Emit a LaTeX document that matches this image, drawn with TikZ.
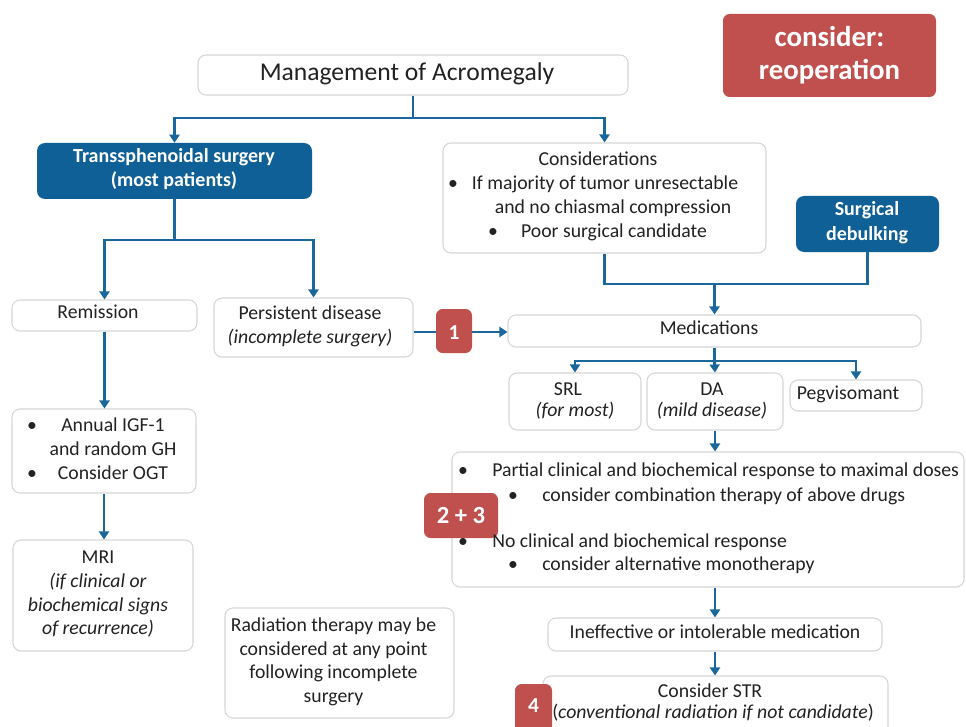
\documentclass[tikz,border=0pt]{standalone}
\usepackage{fontspec}
\setmainfont{Carlito}
\usetikzlibrary{arrows.meta}
\definecolor{lnblue}{HTML}{1A679C}
\definecolor{boxblue}{HTML}{0F6096}
\definecolor{boxred}{HTML}{C0504D}
\definecolor{txt}{HTML}{222222}
\definecolor{edge}{HTML}{D6D6D6}
\tikzset{
  wbox/.style={draw=edge, line width=0.8pt, rounded corners=6pt, fill=white, inner sep=0pt},
  bbox/.style={fill=boxblue, rounded corners=6pt, inner sep=0pt},
  rbox/.style={fill=boxred, rounded corners=5pt, inner sep=0pt},
  tx/.style={text=txt, font=\fontsize{14.8}{18}\selectfont, inner sep=0pt, anchor=base},
  txi/.style={tx, font=\fontsize{14.8}{18}\selectfont\itshape},
  wtx/.style={text=white, font=\fontsize{15}{18}\selectfont\bfseries, inner sep=0pt, anchor=base},
  ln/.style={draw=lnblue, line width=2.2pt},
  arr/.style={ln, -{Triangle[width=7.5pt,length=6pt]}},
}
\newcommand\bx[7]{\node[#6, minimum width={(#4-#2)*0.75pt}, minimum height={(#5-#3)*0.75pt}] (#1) at ({(#2+#4)/2},{(#3+#5)/2}) {#7};}
\begin{document}
\begin{tikzpicture}[x=0.75pt,y=-0.75pt]
\useasboundingbox[fill=white] (0,0) rectangle (966,727);

% boxes
\bx{title}{198}{55}{628}{95}{wbox}{}
\bx{reop}{723}{14}{936}{97}{rbox}{}
\bx{trans}{37}{143}{312}{199}{bbox}{}
\bx{cons}{443}{143}{766}{253}{wbox}{}
\bx{deb}{796}{196}{939}{252}{bbox}{}
\bx{rem}{12}{300}{197}{331}{wbox}{}
\bx{pers}{214}{298}{413}{357}{wbox}{}
\bx{med}{508}{315}{921}{347}{wbox}{}
\bx{srl}{509}{373}{641}{430}{wbox}{}
\bx{da}{647}{373}{783}{430}{wbox}{}
\bx{peg}{790}{380}{922}{411}{wbox}{}
\bx{ann}{12}{409}{196}{493}{wbox}{}
\bx{mri}{13}{540}{193}{651}{wbox}{}
\bx{bul}{452}{452}{964}{587}{wbox}{}
\bx{rad}{225}{608}{454}{718}{wbox}{}
\bx{ineff}{548}{618}{882}{651}{wbox}{}
\bx{str}{543}{676}{888}{745}{wbox}{}

% connectors
\coordinate (tj) at (413,118);
\draw[ln] (title.south) -- (tj);
\draw[arr] (tj) -| (trans.north);
\draw[arr] (tj) -| (cons.north);
\coordinate (sj) at (174.5,240);
\draw[ln] (trans.south) -- (sj);
\draw[arr] (sj) -| (rem.north);
\draw[arr] (sj) -| (pers.north);
\draw[arr] (rem.south) -- (rem.south |- ann.north);
\draw[arr] (ann.south) -- (ann.south |- mri.north);
\draw[arr] (pers.east |- 0,332) -- (med.west |- 0,332);
\coordinate (mj) at (714.5,284);
\draw[ln] (cons.south) -- (cons.south |- mj) -- (mj -| deb.south) -- (deb.south);
\draw[arr] (mj) -- (med.north);
\coordinate (dj) at (714.5,361);
\draw[ln] (med.south) -- (dj);
\draw[arr] (dj) -| (srl.north);
\draw[arr] (dj) -- (da.north);
\draw[arr] (dj) -| (peg.north);
\draw[arr] (da.south) -- (da.south |- bul.north);
\draw[arr] (ineff.north |- bul.south) -- (ineff.north);
\draw[arr] (ineff.south) -- (ineff.south |- str.north);

% badges
\bx{b1}{436}{309}{472}{353}{rbox}{}
\bx{b23}{424}{493}{498}{538}{rbox}{}
\bx{b4}{515}{684}{552}{740}{rbox}{}

% texts
\node[tx, font=\fontsize{19.2}{24}\selectfont] (titlet) at (407,81) {Management of Acromegaly};
\node[wtx, font=\fontsize{21.6}{25}\selectfont\bfseries] (reop1) at (829.5,47) {consider:};
\node[wtx, font=\fontsize{21.6}{25}\selectfont\bfseries] (reop2) at (829.5,80) {reoperation};
\node[wtx] (trans1) at (174,163) {Transsphenoidal surgery};
\node[wtx] (trans2) at (174,187) {(most patients)};
\node[tx] (c1) at (598,166) {Considerations};
\node[tx] (c2) at (453,190) {•};
\node[tx] (c3) at (605,190) {If majority of tumor unresectable};
\node[tx] (c4) at (613,214) {and no chiasmal compression};
\node[tx] (c5) at (493,238) {•};
\node[tx] (c6) at (614,238) {Poor surgical candidate};
\node[wtx] (deb1) at (867,216) {Surgical};
\node[wtx] (deb2) at (867,240) {debulking};
\node[tx] (remt) at (98,318) {Remission};
\node[tx] (pers1) at (310,319) {Persistent disease};
\node[txi] (pers2) at (310,343) {(incomplete surgery)};
\node[wtx, font=\fontsize{16}{18}\selectfont\bfseries] (b1t) at (454,339) {1};
\node[tx] (medt) at (709,334) {Medications};
\node[tx] (srl1) at (568,395) {SRL};
\node[txi] (srl2) at (575,416) {(for most)};
\node[tx] (da1) at (712,395) {DA};
\node[txi] (da2) at (712,416) {(mild disease)};
\node[tx] (pegt) at (848,399) {Pegvisomant};
\node[tx] (a1) at (32,431) {•};
\node[tx] (a2) at (113,431) {Annual IGF-1};
\node[tx] (a3) at (113,455) {and random GH};
\node[tx] (a4) at (32,479) {•};
\node[tx] (a5) at (113,479) {Consider OGT};
\node[tx] (mri1) at (98,563) {MRI};
\node[txi] (mri2) at (98,587) {(if clinical or};
\node[txi] (mri3) at (98,611) {biochemical signs};
\node[txi] (mri4) at (98,634) {of recurrence)};
\node[tx] (r1) at (333.5,631) {Radiation therapy may be};
\node[tx] (r2) at (333.5,655) {considered at any point};
\node[tx] (r3) at (333.5,678) {following incomplete};
\node[tx] (r4) at (333.5,702) {surgery};
\node[tx] (p1) at (463,476) {•};
\node[tx, anchor=base west] (p2) at (492,476) {Partial clinical and biochemical response to maximal doses};
\node[tx] (p3) at (513,501) {•};
\node[tx, anchor=base west] (p4) at (542,501) {consider combination therapy of above drugs};
\node[tx] (p5) at (463,547) {•};
\node[tx, anchor=base west] (p6) at (492,547) {No clinical and biochemical response};
\node[tx] (p7) at (513,570) {•};
\node[tx, anchor=base west] (p8) at (542,570) {consider alternative monotherapy};
\node[wtx, font=\fontsize{18.5}{20}\selectfont\bfseries] (b23t) at (461,523) {2 + 3};
\node[tx] (inefft) at (715,638) {Ineffective or intolerable medication};
\node[tx] (str1) at (710,697) {Consider STR};
\node[tx] (str2) at (713,718) {(\textit{conventional radiation if not candidate})};
\node[wtx, font=\fontsize{16}{18}\selectfont\bfseries] (b4t) at (533.5,712) {4};
\end{tikzpicture}
\end{document}
